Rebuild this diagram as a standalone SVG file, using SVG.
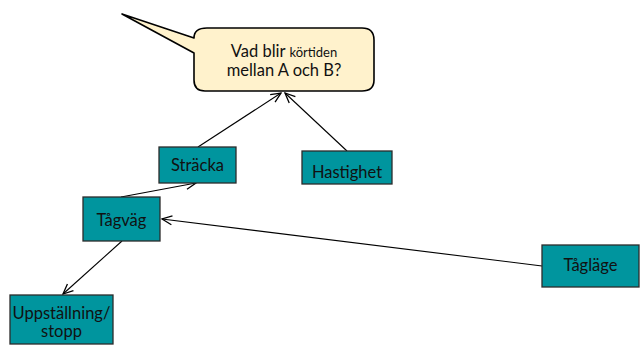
<svg xmlns="http://www.w3.org/2000/svg" width="640" height="346" viewBox="0 0 640 346">
  <defs>
    <style>
      .box { fill: #00959E; stroke: #2b2b2b; stroke-width: 1.3; }
      .lbl { font-family: Lato, "Open Sans", sans-serif; font-size: 16.5px; fill: #111; text-anchor: middle; }
      .edge { stroke: #000; stroke-width: 1.1; fill: none; marker-end: url(#arrow); }
    </style>
    <marker id="arrow" viewBox="0 0 12 12" refX="11" refY="6" markerWidth="12" markerHeight="12" markerUnits="userSpaceOnUse" orient="auto">
      <path d="M1,1.5 L11,6 L1,10.5" fill="none" stroke="#000" stroke-width="1.3"/>
    </marker>
  </defs>
  <rect width="640" height="346" fill="#fff"/>

  <g id="question">
    <path d="M207,28 H362 Q374,28 374,40 V80 Q374,91 362,91 H205 Q194,91 194,80 V53 L122,14 L194,38 Q194,28 207,28 Z" fill="#FFF2CC" stroke="#000" stroke-width="1.6" stroke-linejoin="round"/>
    <text class="lbl" x="284" y="57">Vad blir <tspan font-size="13">körtiden</tspan></text>
    <text class="lbl" x="284" y="76">mellan A och B?</text>
  </g>

  <g id="connectors">
    <line class="edge" x1="198" y1="147" x2="281" y2="93"/>
    <line class="edge" x1="347" y1="151" x2="285" y2="93"/>
    <line class="edge" x1="121" y1="197" x2="196" y2="183"/>
    <line class="edge" x1="122" y1="241" x2="63" y2="294"/>
    <line class="edge" x1="542" y1="266" x2="162" y2="219"/>
  </g>

  <g id="stracka">
    <rect class="box" x="159" y="147" width="77" height="36"/>
    <text class="lbl" x="197.5" y="171">Sträcka</text>
  </g>
  <g id="hastighet">
    <rect class="box" x="302" y="151" width="90" height="33"/>
    <text class="lbl" x="347" y="178">Hastighet</text>
  </g>
  <g id="tagvag">
    <rect class="box" x="83" y="197" width="77" height="44"/>
    <text class="lbl" x="121.5" y="226">Tågväg</text>
  </g>
  <g id="uppstallning">
    <rect class="box" x="10" y="295" width="103" height="49"/>
    <text class="lbl" x="61.5" y="319">Uppställning/</text>
    <text class="lbl" x="61.5" y="337">stopp</text>
  </g>
  <g id="taglage">
    <rect class="box" x="542" y="245" width="97" height="42"/>
    <text class="lbl" x="590.5" y="271">Tågläge</text>
  </g>
</svg>
